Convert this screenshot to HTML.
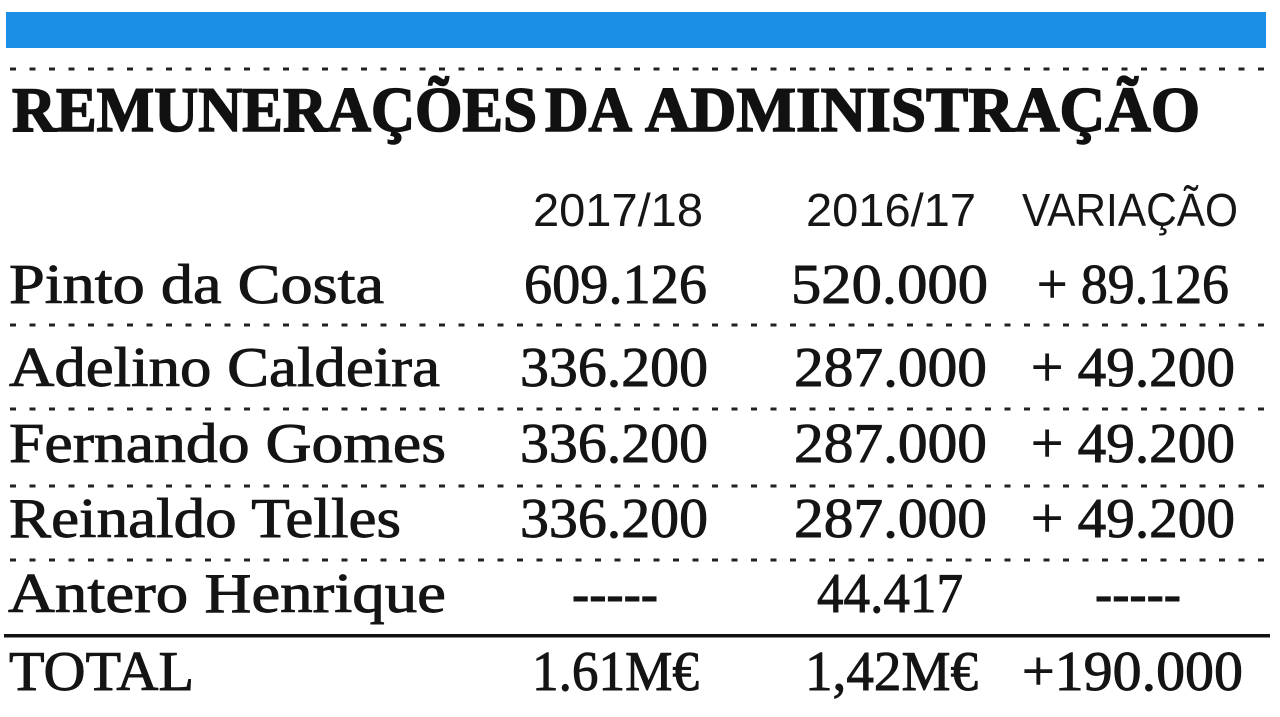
<!DOCTYPE html>
<html>
<head>
<meta charset="utf-8">
<style>
  html,body{margin:0;padding:0;background:#fff;}
  body{width:1280px;height:717px;overflow:hidden;}
  svg{display:block;}
  .t{font-family:"Liberation Serif",serif;font-weight:bold;font-size:64px;fill:#111;stroke:#111;stroke-width:1.6px;}
  .h{font-family:"Liberation Sans","DejaVu Sans",sans-serif;font-size:46px;fill:#161616;}
  .d{font-family:"Liberation Serif",serif;font-size:56px;fill:#141414;stroke:#141414;stroke-width:0.9px;}
</style>
</head>
<body>
<svg width="1280" height="717" viewBox="0 0 1280 717" xmlns="http://www.w3.org/2000/svg">
  <rect x="0" y="0" width="1280" height="717" fill="#ffffff"/>
  <!-- blue bar -->
  <rect x="6" y="12" width="1260" height="36" fill="#1a8fe5"/>

  <!-- dotted separators -->
  <g stroke="#222" stroke-width="3" stroke-dasharray="6 13.5" fill="none">
    <line x1="10" y1="69" x2="1268" y2="69"/>
    <line x1="10" y1="325" x2="1268" y2="325"/>
    <line x1="10" y1="409" x2="1268" y2="409"/>
    <line x1="10" y1="486" x2="1268" y2="486"/>
    <line x1="10" y1="560" x2="1268" y2="560"/>
  </g>

  <!-- title -->
  <text class="t" x="12" y="131" textLength="525" lengthAdjust="spacingAndGlyphs">REMUNERAÇÕES</text>
  <text class="t" x="545" y="131" textLength="87" lengthAdjust="spacingAndGlyphs">DA</text>
  <text class="t" x="645" y="131" textLength="555" lengthAdjust="spacingAndGlyphs">ADMINISTRAÇÃO</text>

  <!-- header -->
  <text class="h" x="533" y="226" textLength="170" lengthAdjust="spacingAndGlyphs">2017/18</text>
  <text class="h" x="806" y="226" textLength="170" lengthAdjust="spacingAndGlyphs">2016/17</text>
  <text class="h" x="1022" y="226" textLength="216" lengthAdjust="spacingAndGlyphs">VARIAÇÃO</text>

  <!-- row 1 -->
  <text class="d" x="9" y="303" textLength="375" lengthAdjust="spacingAndGlyphs">Pinto da Costa</text>
  <text class="d" x="524" y="303" textLength="183" lengthAdjust="spacingAndGlyphs">609.126</text>
  <text class="d" x="791" y="303" textLength="197" lengthAdjust="spacingAndGlyphs">520.000</text>
  <text class="d" x="1037" y="303" textLength="192" lengthAdjust="spacingAndGlyphs">+ 89.126</text>

  <!-- row 2 -->
  <text class="d" x="9" y="386" textLength="431" lengthAdjust="spacingAndGlyphs">Adelino Caldeira</text>
  <text class="d" x="520" y="386" textLength="188" lengthAdjust="spacingAndGlyphs">336.200</text>
  <text class="d" x="794" y="386" textLength="193" lengthAdjust="spacingAndGlyphs">287.000</text>
  <text class="d" x="1031" y="386" textLength="204" lengthAdjust="spacingAndGlyphs">+ 49.200</text>

  <!-- row 3 -->
  <text class="d" x="9" y="462" textLength="437" lengthAdjust="spacingAndGlyphs">Fernando Gomes</text>
  <text class="d" x="520" y="462" textLength="188" lengthAdjust="spacingAndGlyphs">336.200</text>
  <text class="d" x="794" y="462" textLength="193" lengthAdjust="spacingAndGlyphs">287.000</text>
  <text class="d" x="1031" y="462" textLength="204" lengthAdjust="spacingAndGlyphs">+ 49.200</text>

  <!-- row 4 -->
  <text class="d" x="9" y="537" textLength="392" lengthAdjust="spacingAndGlyphs">Reinaldo Telles</text>
  <text class="d" x="520" y="537" textLength="188" lengthAdjust="spacingAndGlyphs">336.200</text>
  <text class="d" x="794" y="537" textLength="193" lengthAdjust="spacingAndGlyphs">287.000</text>
  <text class="d" x="1031" y="537" textLength="204" lengthAdjust="spacingAndGlyphs">+ 49.200</text>

  <!-- row 5 -->
  <text class="d" x="8" y="612" textLength="438" lengthAdjust="spacingAndGlyphs">Antero Henrique</text>
  <text class="d" x="572" y="612" textLength="86" lengthAdjust="spacingAndGlyphs">-----</text>
  <text class="d" x="817" y="612" textLength="146" lengthAdjust="spacingAndGlyphs">44.417</text>
  <text class="d" x="1095" y="612" textLength="86" lengthAdjust="spacingAndGlyphs">-----</text>

  <!-- solid rule -->
  <rect x="4" y="634" width="1266" height="3.5" fill="#111"/>

  <!-- total -->
  <text class="d" x="9" y="690" textLength="185" lengthAdjust="spacingAndGlyphs">TOTAL</text>
  <text class="d" x="532" y="690" textLength="167" lengthAdjust="spacingAndGlyphs">1.61M€</text>
  <text class="d" x="805" y="690" textLength="173" lengthAdjust="spacingAndGlyphs">1,42M€</text>
  <text class="d" x="1022" y="690" textLength="221" lengthAdjust="spacingAndGlyphs">+190.000</text>
</svg>
</body>
</html>
